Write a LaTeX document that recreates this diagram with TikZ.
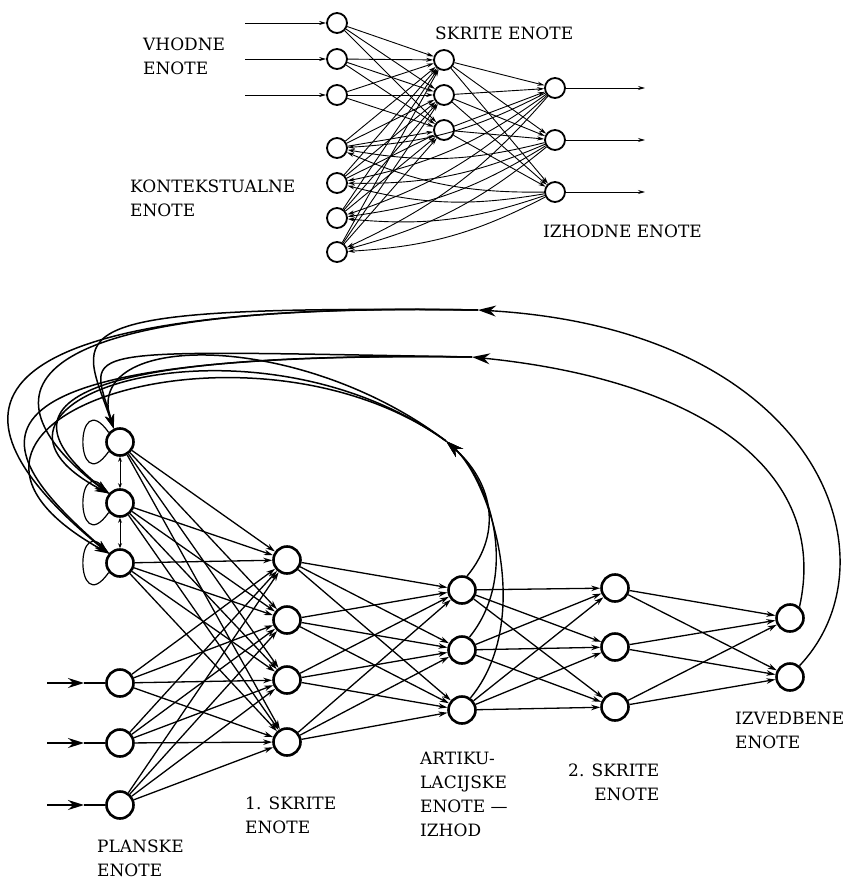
\documentclass[tikz,border=0pt]{standalone}
\usepackage{fontspec}
\setmainfont{DejaVu Serif}
\usetikzlibrary{arrows.meta,calc}

\begin{document}
\begin{tikzpicture}[x=1pt,y=1pt,
  unit/.style={circle,draw,line width=2.6pt,minimum size=27pt,inner sep=0pt},
  smallunit/.style={circle,draw,line width=1.8pt,minimum size=20pt,inner sep=0pt},
  link/.style={line width=1.3pt,-{Stealth[length=9pt,width=5.5pt]}},
  smalllink/.style={line width=0.9pt,-{Stealth[length=7pt,width=4pt]}},
  back/.style={line width=1.5pt,-{Stealth[length=14pt,width=9pt]}},
  bigback/.style={line width=1.4pt,-{Stealth[length=18pt,width=11pt]}},
  caption/.style={anchor=north west,inner sep=0pt,align=left,font=\fontsize{17}{24}\selectfont}]
\useasboundingbox (0,0) rectangle (850,-880);

\foreach \y [count=\i] in {23,59,95} \node[smallunit] (in\i) at (337,-\y) {};
\foreach \y [count=\i] in {148,183,218,252} \node[smallunit] (ctx\i) at (337,-\y) {};
\foreach \y [count=\i] in {60,95,130} \node[smallunit] (hid\i) at (444,-\y) {};
\foreach \y [count=\i] in {88,140,192} \node[smallunit] (out\i) at (555,-\y) {};

\foreach \y [count=\i] in {23,59,95} {
  \coordinate (inx\i) at (245,-\y);
  \draw[smalllink] (inx\i) -- (in\i);
}
\foreach \y [count=\i] in {88,140,192} {
  \coordinate (outx\i) at (645,-\y);
  \draw[smalllink] (out\i) -- (outx\i);
}
\foreach \i in {1,2,3} \foreach \j in {1,2,3} \draw[smalllink] (in\i) -- (hid\j);
\foreach \i in {1,...,4} \foreach \j in {1,2,3} \draw[smalllink] (ctx\i) -- (hid\j);
\foreach \i in {1,2,3} \foreach \j in {1,2,3} \draw[smalllink] (hid\i) -- (out\j);
\foreach \i in {1,2,3} \foreach \j in {1,...,4} \draw[smalllink] (out\i) to[bend left=12] (ctx\j);

\node[caption] (vhod) at (143,-38) {VHODNE\\ENOTE};
\node[caption] (kont) at (130,-180) {KONTEKSTUALNE\\ENOTE};
\node[caption] (skr) at (435,-27) {SKRITE ENOTE};
\node[caption] (izh) at (543,-225) {IZHODNE ENOTE};

\foreach \y [count=\i] in {442,503,563} \node[unit] (st\i) at (120,-\y) {};
\foreach \y [count=\i] in {683,743,805} \node[unit] (pl\i) at (120,-\y) {};
\foreach \y [count=\i] in {560,620,680,742} \node[unit] (ha\i) at (287,-\y) {};
\foreach \y [count=\i] in {590,650,710} \node[unit] (ar\i) at (462,-\y) {};
\foreach \y [count=\i] in {588,647,707} \node[unit] (hb\i) at (615,-\y) {};
\foreach \y [count=\i] in {618,677} \node[unit] (pe\i) at (790,-\y) {};

\foreach \y [count=\i] in {683,743,805} {
  \coordinate (px\i) at (47,-\y);
  \coordinate (pm\i) at (84,-\y);
  \draw[line width=1.4pt,-{Stealth[length=16pt,width=10pt]}] (px\i) -- (pm\i);
  \draw[line width=1.4pt] (pm\i) -- (pl\i);
}

\foreach \i in {1,2,3} {
  \draw[line width=1.2pt] (st\i.140) .. controls +(125:60) and +(235:60) .. (st\i.220);
  \foreach \j in {1,...,4} {
    \draw[link] (st\i) -- (ha\j);
    \draw[link] (pl\i) -- (ha\j);
  }
}
\draw[line width=1pt,{Stealth[length=5pt,width=4pt]}-{Stealth[length=5pt,width=4pt]}] (st1) -- (st2);
\draw[line width=1pt,{Stealth[length=5pt,width=4pt]}-{Stealth[length=5pt,width=4pt]}] (st2) -- (st3);

\foreach \i in {1,...,4} \foreach \j in {1,2,3} \draw[link] (ha\i) -- (ar\j);
\foreach \i in {1,2,3} \foreach \j in {1,2,3} \draw[link] (ar\i) -- (hb\j);
\foreach \i in {1,2,3} \foreach \j in {1,2} \draw[link] (hb\i) -- (pe\j);

\coordinate (tp) at (478,-310);
\coordinate (tq) at (472,-357);
\coordinate (tr) at (446,-441);

\draw[bigback] (pe2.50) .. controls (900,-560) and (820,-330) .. (tp);
\draw[bigback] (pe1.50) .. controls (830,-470) and (700,-380) .. (tq);
\draw[bigback] (ar1.70) .. controls (505,-530) and (490,-480) .. (tr);
\draw[bigback] (ar2.60) .. controls (520,-575) and (490,-480) .. (tr);
\draw[bigback] (ar3.55) .. controls (535,-620) and (490,-480) .. (tr);

\draw[back] (tp) .. controls (-110,-300) and (-30,-440) .. (st3.140);
\draw[back] (tq) .. controls (-80,-350) and (-10,-450) .. (st3.140);
\draw[back] (tr) .. controls (250,-300) and (-130,-420) .. (st3.140);
\draw[back] (tp) .. controls (-60,-300) and (10,-420) .. (st2.140);
\draw[back] (tq) .. controls (-20,-350) and (30,-430) .. (st2.140);
\draw[back] (tr) .. controls (250,-300) and (-70,-400) .. (st2.140);
\draw[back] (tp) .. controls (40,-305) and (80,-330) .. (st1.115);
\draw[back] (tq) .. controls (60,-350) and (90,-345) .. (st1.115);
\draw[back] (tr) .. controls (300,-330) and (80,-330) .. (st1.115);

\node[caption] (plan) at (97,-840) {PLANSKE\\ENOTE};
\node[caption] (skr1) at (245,-797) {1. SKRITE\\ENOTE};
\node[caption] (art) at (420,-752) {ARTIKU-\\LACIJSKE\\ENOTE —\\IZHOD};
\node[caption,align=right] (skr2) at (568,-764) {2. SKRITE\\ENOTE};
\node[caption] (izv) at (735,-712) {IZVEDBENE\\ENOTE};
\end{tikzpicture}
\end{document}
